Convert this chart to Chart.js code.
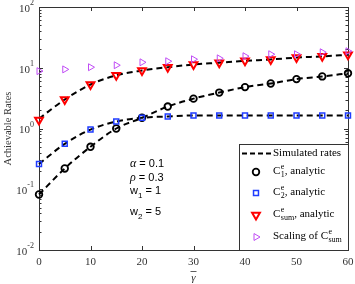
<!DOCTYPE html>
<html>
<head>
<meta charset="utf-8">
<script src="https://cdn.jsdelivr.net/npm/chart.js@4.4.1/dist/chart.umd.min.js"></script>
<style>
  html, body { margin: 0; padding: 0; background: #fff; }
  #wrap { width: 355px; height: 284px; position: relative; }
</style>
</head>
<body>
<div id="wrap"><canvas id="rates" width="355" height="284"></canvas></div>
<script>
// data
const gammaBar = [0, 5, 10, 15, 20, 25, 30, 35, 40, 45, 50, 55, 60];
const c1Analytic = [0.082, 0.22, 0.5, 1.0, 1.5, 2.3, 3.1, 3.9, 4.8, 5.5, 6.5, 7.2, 8.1];
const c2Analytic = [0.26, 0.56, 0.96, 1.3, 1.5, 1.58, 1.64, 1.64, 1.64, 1.64, 1.64, 1.64, 1.64];
const csumAnalytic = [1.38, 3.0, 5.3, 7.5, 9.0, 10.2, 11.3, 12.1, 13.0, 13.7, 14.7, 15.4, 16.3];
const csumScaling = [8.8, 9.4, 10.2, 11.0, 12.3, 12.8, 13.8, 14.3, 15.5, 16.7, 16.7, 18.0, 18.7];
const simC1 = [0.082, 0.22, 0.5, 1.0, 1.5, 2.3, 3.1, 3.9, 4.8, 5.5, 6.5, 7.2, 8.1];
const simC2 = [0.26, 0.56, 0.96, 1.3, 1.5, 1.58, 1.64, 1.64, 1.64, 1.64, 1.64, 1.64, 1.64];
const simCsum = [1.45, 3.0, 5.3, 7.5, 9.0, 10.2, 11.3, 12.1, 13.0, 13.7, 14.7, 15.4, 16.3];
const xTicks = [0, 10, 20, 30, 40, 50, 60];
const yDecades = [-2, -1, 0, 1, 2];

const BLUE = '#1f3cff', RED = '#ff0000', MAGENTA = '#c04cf5';
const SERIF = '"Liberation Serif", "DejaVu Serif", serif';
const SANS = '"Liberation Sans", Arial, sans-serif';

function pts(ys) {
    return gammaBar.map((x, i) => ({ x: x, y: ys[i] }));
}

function simLine(ys) {
    return {
        data: pts(ys), borderColor: '#000', borderWidth: 2, borderDash: [6, 4],
        pointRadius: 0, cubicInterpolationMode: 'monotone', clip: false, order: 10
    };
}

function markers(ys, style, color, r, bw, rot, order) {
    return {
        data: pts(ys), showLine: false, pointStyle: style, pointRadius: r,
        pointBorderColor: color, pointBackgroundColor: 'rgba(255,255,255,0)',
        pointBorderWidth: bw, pointRotation: rot, clip: false, order: order
    };
}

// C with super- and subscript, returns end x
function drawC(ctx, x, y, sub, rest) {
    ctx.font = '11px ' + SERIF;
    ctx.textBaseline = 'alphabetic';
    ctx.fillText('C', x, y + 4);
    let w = ctx.measureText('C').width;
    ctx.font = '8px ' + SERIF;
    ctx.fillText('e', x + w + 0.5, y - 1);
    ctx.fillText(sub, x + w + 0.5, y + 7);
    let sw = Math.max(ctx.measureText('e').width, ctx.measureText(sub).width);
    let ex = x + w + 0.5 + sw;
    if (rest) {
        ctx.font = '11px ' + SERIF;
        ctx.fillText(rest, ex, y + 4);
        ex += ctx.measureText(rest).width;
    }
    return ex;
}

const framePlugin = {
    id: 'frame',
    beforeDatasetsDraw(chart) {
        const ctx = chart.ctx, a = chart.chartArea;
        const xs = chart.scales.x, ys = chart.scales.y;
        ctx.save();
        ctx.strokeStyle = '#333';
        ctx.lineWidth = 1;
        ctx.strokeRect(a.left + 0.5, a.top + 0.5, a.right - a.left, a.bottom - a.top);
        ctx.beginPath();
        xTicks.forEach(v => {
            const px = Math.round(xs.getPixelForValue(v)) + 0.5;
            ctx.moveTo(px, a.bottom); ctx.lineTo(px, a.bottom - 4);
            ctx.moveTo(px, a.top); ctx.lineTo(px, a.top + 4);
        });
        yDecades.forEach(d => {
            for (let m = 1; m <= 9; m++) {
                if (d === 2 && m > 1) break;
                const v = m * Math.pow(10, d);
                const py = Math.round(ys.getPixelForValue(v)) + 0.5;
                const len = m === 1 ? 4 : 2.5;
                ctx.moveTo(a.left, py); ctx.lineTo(a.left + len, py);
                ctx.moveTo(a.right, py); ctx.lineTo(a.right - len, py);
            }
        });
        ctx.stroke();

        // tick labels
        ctx.fillStyle = '#333';
        ctx.font = '11px ' + SERIF;
        ctx.textAlign = 'center';
        ctx.textBaseline = 'middle';
        xTicks.forEach(v => ctx.fillText(String(v), xs.getPixelForValue(v), a.bottom + 12));
        yDecades.forEach(d => {
            const py = ys.getPixelForValue(Math.pow(10, d)) + 2;
            const exp = d < 0 ? '-' + (-d) : String(d);
            ctx.font = '8px ' + SERIF;
            const ew = ctx.measureText(exp).width;
            ctx.textAlign = 'left';
            ctx.fillText(exp, 34 - ew, py - 6);
            ctx.font = '11px ' + SERIF;
            ctx.textAlign = 'right';
            ctx.fillText('10', 34 - ew, py);
        });

        // axis titles
        ctx.textAlign = 'center';
        ctx.font = 'italic 11px ' + SERIF;
        const gx = xs.getPixelForValue(30);
        ctx.fillText('\u03b3', gx, 278);
        ctx.beginPath();
        ctx.moveTo(gx - 3, 271.5); ctx.lineTo(gx + 3, 271.5);
        ctx.lineWidth = 0.8;
        ctx.stroke();
        ctx.save();
        ctx.translate(8, (a.top + a.bottom) / 2);
        ctx.rotate(-Math.PI / 2);
        ctx.font = '10.5px ' + SERIF;
        ctx.fillText('Achievable Rates', 0, 0);
        ctx.restore();

        // parameter text
        ctx.fillStyle = '#000';
        ctx.textAlign = 'left';
        ctx.textBaseline = 'alphabetic';
        const tx = 130;
        [['\u03b1', ' = 0.1', 167], ['\u03c1', ' = 0.3', 180.5]].forEach(r => {
            ctx.font = 'italic 12px ' + SERIF;
            ctx.fillText(r[0], tx, r[2]);
            const w = ctx.measureText(r[0]).width;
            ctx.font = '11px ' + SANS;
            ctx.fillText(r[1], tx + w, r[2]);
        });
        [['1', ' = 1', 193.5], ['2', ' = 5', 214.5]].forEach(r => {
            ctx.font = '11px ' + SANS;
            ctx.fillText('w', tx, r[2]);
            const w = ctx.measureText('w').width;
            ctx.font = '8px ' + SANS;
            ctx.fillText(r[0], tx + w, r[2] + 4);
            const sw = ctx.measureText(r[0]).width;
            ctx.font = '11px ' + SANS;
            ctx.fillText(r[1], tx + w + sw, r[2]);
        });
        ctx.restore();
    },
    afterDatasetsDraw(chart) {
        const ctx = chart.ctx, a = chart.chartArea;
        const L = 239, T = 144;
        ctx.save();
        ctx.fillStyle = '#fff';
        ctx.fillRect(L, T, a.right - L, a.bottom - T);
        ctx.strokeStyle = '#333';
        ctx.lineWidth = 1;
        ctx.strokeRect(L + 0.5, T + 0.5, a.right - L, a.bottom - T);

        const mx = 256, tx = 273;
        // simulated rates
        ctx.strokeStyle = '#000';
        ctx.lineWidth = 2;
        ctx.setLineDash([5, 3]);
        ctx.beginPath();
        ctx.moveTo(242, 153.5); ctx.lineTo(272, 153.5);
        ctx.stroke();
        ctx.setLineDash([]);
        ctx.fillStyle = '#000';
        ctx.font = '11px ' + SERIF;
        ctx.textBaseline = 'middle';
        ctx.fillText('Simulated rates', tx, 153.5);

        const draw = Chart.helpers.drawPoint;
        const item = (style, color, r, bw, rot, y) => {
            ctx.strokeStyle = color;
            ctx.fillStyle = 'rgba(255,255,255,0)';
            ctx.lineWidth = bw;
            draw(ctx, { pointStyle: style, radius: r, borderWidth: bw, rotation: rot }, mx, y);
        };
        item('circle', '#000', 3.3, 1.8, 0, 172);
        item('rect', BLUE, 3.5, 1.5, 0, 193);
        item('triangle', RED, 4.5, 2, 180, 215);
        item('triangle', MAGENTA, 4, 1, 90, 237);

        ctx.fillStyle = '#000';
        ctx.textBaseline = 'alphabetic';
        drawC(ctx, tx, 170, '1', ', analytic');
        drawC(ctx, tx, 191, '2', ', analytic');
        drawC(ctx, tx, 213, 'sum', ', analytic');
        ctx.font = '11px ' + SERIF;
        ctx.fillText('Scaling of ', tx, 239);
        drawC(ctx, tx + ctx.measureText('Scaling of ').width, 235, 'sum', '');
        ctx.restore();
    }
};

new Chart(document.getElementById('rates'), {
    type: 'line',
    data: {
        datasets: [
            simLine(simC1),
            simLine(simC2),
            simLine(simCsum),
            markers(c1Analytic, 'circle', '#000', 3.3, 1.8, 0, 4),
            markers(c2Analytic, 'rect', BLUE, 3.5, 1.5, 0, 3),
            markers(csumAnalytic, 'triangle', RED, 4.5, 2, 180, 2),
            markers(csumScaling, 'triangle', MAGENTA, 4, 1, 90, 1)
        ]
    },
    options: {
        responsive: false,
        animation: false,
        events: [],
        layout: { padding: { left: 39, right: 7, top: 7, bottom: 34 } },
        scales: {
            x: { type: 'linear', min: 0, max: 60, display: false },
            y: { type: 'logarithmic', min: 0.01, max: 100, display: false }
        },
        plugins: { legend: { display: false }, tooltip: { enabled: false } }
    },
    plugins: [framePlugin]
});
</script>
</body>
</html>
